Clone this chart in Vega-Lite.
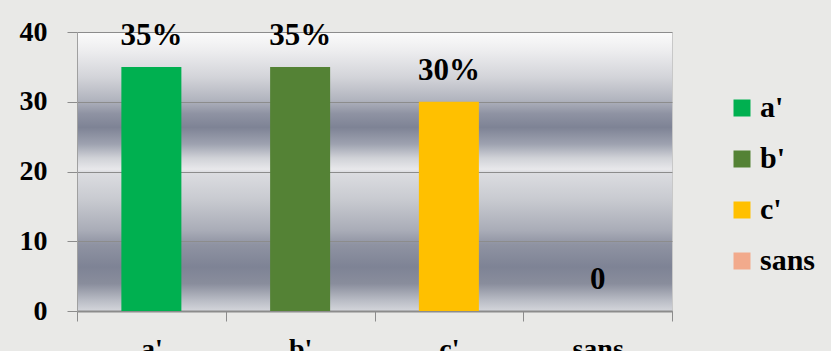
{
  "$schema": "https://vega.github.io/schema/vega-lite/v6.json",
  "width": 595,
  "height": 279,
  "autosize": {"type": "none"},
  "padding": {"left": 77, "top": 32, "right": 159, "bottom": 40},
  "background": "#e9e9e7",
  "data": {
    "values": [
      {"cat": "a'", "value": 35, "label": "35%"},
      {"cat": "b'", "value": 35, "label": "35%"},
      {"cat": "c'", "value": 30, "label": "30%"},
      {"cat": "sans", "value": 0, "label": "0"}
    ]
  },
  "view": {
    "fill": {
      "gradient": "linear",
      "x1": 0, "y1": 0, "x2": 0, "y2": 1,
      "stops": [
        {"offset": 0, "color": "#fbfbfb"},
        {"offset": 0.07, "color": "#ececee"},
        {"offset": 0.16, "color": "#d3d4d9"},
        {"offset": 0.24, "color": "#b2b5bf"},
        {"offset": 0.29, "color": "#8f93a3"},
        {"offset": 0.34, "color": "#7e8395"},
        {"offset": 0.40, "color": "#9ea2b0"},
        {"offset": 0.45, "color": "#d0d2d7"},
        {"offset": 0.49, "color": "#e8e8eb"},
        {"offset": 0.50, "color": "#dcdde1"},
        {"offset": 0.60, "color": "#c8cad0"},
        {"offset": 0.71, "color": "#a9acb7"},
        {"offset": 0.76, "color": "#8f93a2"},
        {"offset": 0.84, "color": "#7e8395"},
        {"offset": 0.90, "color": "#898d9c"},
        {"offset": 0.96, "color": "#b9bcc5"},
        {"offset": 1, "color": "#d5d7dc"}
      ]
    },
    "stroke": "#c8c8c8",
    "strokeWidth": 1
  },
  "encoding": {
    "x": {
      "field": "cat",
      "type": "nominal",
      "sort": null,
      "scale": {"paddingInner": 0, "paddingOuter": 0},
      "axis": {
        "title": null,
        "labelAngle": 0,
        "labelFont": "Liberation Serif, Times New Roman, DejaVu Serif, serif",
        "labelFontWeight": "bold",
        "labelFontSize": 28,
        "labelColor": "black",
        "labelPadding": 14,
        "tickBand": "extent",
        "tickSize": 10,
        "tickColor": "#8c8c8c",
        "domainColor": "#8c8c8c",
        "domainWidth": 2,
        "grid": false
      }
    },
    "y": {
      "field": "value",
      "type": "quantitative",
      "scale": {"domain": [0, 40], "nice": false},
      "axis": {
        "title": null,
        "values": [0, 10, 20, 30, 40],
        "labelFont": "Liberation Serif, Times New Roman, DejaVu Serif, serif",
        "labelFontWeight": "bold",
        "labelFontSize": 28,
        "labelColor": "black",
        "labelPadding": 20,
        "tickSize": 10,
        "tickColor": "#8c8c8c",
        "domainColor": "#a0a0a0",
        "gridColor": "#8c8c8c",
        "gridOpacity": 1,
        "gridWidth": 1
      }
    }
  },
  "layer": [
    {
      "mark": {"type": "bar", "width": {"band": 0.4034}},
      "encoding": {
        "color": {
          "field": "cat",
          "type": "nominal",
          "sort": null,
          "scale": {
            "domain": ["a'", "b'", "c'", "sans"],
            "range": ["#00b050", "#548235", "#ffc000", "#f2aa8c"]
          },
          "legend": {
            "title": null,
            "orient": "none",
            "legendX": 650,
            "legendY": 61,
            "symbolType": "square",
            "symbolSize": 289,
            "symbolStrokeWidth": 0,
            "symbolOpacity": 1,
            "labelFont": "Liberation Serif, Times New Roman, DejaVu Serif, serif",
            "labelFontWeight": "bold",
            "labelFontSize": 30,
            "labelColor": "black",
            "labelOffset": 3,
            "rowPadding": 21
          }
        }
      }
    },
    {
      "mark": {
        "type": "text",
        "baseline": "bottom",
        "dy": -15,
        "font": "Liberation Serif, Times New Roman, DejaVu Serif, serif",
        "fontWeight": "bold",
        "fontSize": 31,
        "color": "black"
      },
      "encoding": {"text": {"field": "label"}}
    }
  ]
}
